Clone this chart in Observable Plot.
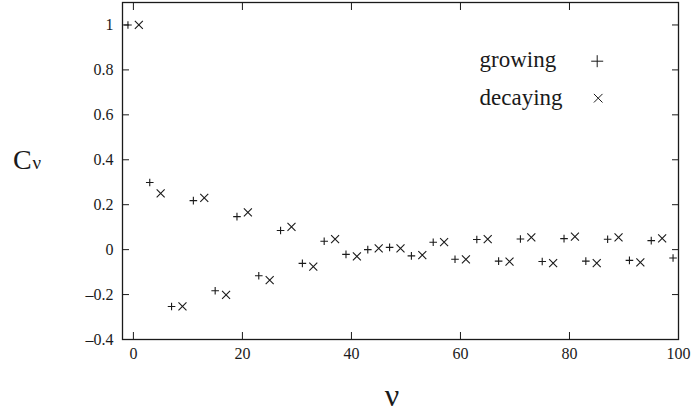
<!DOCTYPE html>
<html>
<head>
<meta charset="utf-8">
<script src="https://cdn.jsdelivr.net/npm/d3@7"></script>
<script src="https://cdn.jsdelivr.net/npm/@observablehq/plot@0.6"></script>
<style>
  html, body { margin: 0; padding: 0; background: #fff; }
  svg { display: block; }
  svg, svg text { font-family: "Liberation Serif", "Times New Roman", serif !important; }
</style>
</head>
<body>
<div id="chart"></div>
<script>
// ---- data ----
const growingNu = [-1, 3, 7, 11, 15, 19, 23, 27, 31, 35, 39, 43, 47, 51, 55, 59, 63, 67, 71, 75, 79, 83, 87, 91, 95, 99];
const growingC  = [1.00, 0.299, -0.253, 0.218, -0.183, 0.147, -0.116, 0.085, -0.061, 0.037, -0.021, 0.000, 0.010, -0.028, 0.033, -0.043, 0.045, -0.051, 0.047, -0.053, 0.049, -0.051, 0.046, -0.048, 0.040, -0.037];
const decayingNu = [1, 5, 9, 13, 17, 21, 25, 29, 33, 37, 41, 45, 49, 53, 57, 61, 65, 69, 73, 77, 81, 85, 89, 93, 97];
const decayingC  = [1.00, 0.250, -0.253, 0.230, -0.201, 0.166, -0.136, 0.101, -0.076, 0.047, -0.030, 0.006, 0.006, -0.024, 0.033, -0.043, 0.047, -0.053, 0.055, -0.060, 0.058, -0.060, 0.055, -0.057, 0.050];
const xTicks = [0, 20, 40, 60, 80, 100];
const yTicks = [-0.4, -0.2, 0, 0.2, 0.4, 0.6, 0.8, 1];
const seriesNames = ["growing", "decaying"];

const growing = growingNu.map((nu, i) => ({nu, c: growingC[i]}));
const decaying = decayingNu.map((nu, i) => ({nu, c: decayingC[i]}));

// custom stroke symbols: r option = half arm length
const plusSym = {draw(ctx, size) { const h = Math.sqrt(size / Math.PI); ctx.moveTo(-h, 0); ctx.lineTo(h, 0); ctx.moveTo(0, -h); ctx.lineTo(0, h); }};
const timesSym = {draw(ctx, size) { const h = Math.sqrt(size / Math.PI); ctx.moveTo(-h, -h); ctx.lineTo(h, h); ctx.moveTo(-h, h); ctx.lineTo(h, -h); }};

const ink = "#1a1a1a";
const font = "'Liberation Serif', 'Times New Roman', serif";
const yFmt = d => d === 0 ? "0" : (d < 0 ? "\u2013" + d3.format("")(Math.abs(d)) : d3.format("")(d));

const chart = Plot.plot({
  width: 691,
  height: 415,
  marginLeft: 122,
  marginRight: 13,
  marginTop: 2,
  marginBottom: 76,
  style: {fontFamily: font, fontSize: "16px", color: ink, background: "#fff"},
  x: {domain: [-2, 100], ticks: xTicks},
  y: {domain: [-0.4, 1.1], ticks: yTicks},
  marks: [
    Plot.frame({stroke: ink, strokeWidth: 1.3}),
    Plot.axisX(xTicks, {anchor: "bottom", tickSize: 0, tickPadding: 8, fontSize: 16, fontFamily: font, label: null, tickFormat: d => String(d)}),
    Plot.axisX(xTicks, {anchor: "bottom", tickSize: -7, text: null, label: null, stroke: ink}),
    Plot.axisX(xTicks, {anchor: "top", tickSize: -7, text: null, label: null, stroke: ink}),
    Plot.axisY(yTicks, {anchor: "left", tickSize: 0, tickPadding: 9, fontSize: 16, fontFamily: font, label: null, tickFormat: yFmt}),
    Plot.axisY(yTicks, {anchor: "left", tickSize: -7, text: null, label: null, stroke: ink}),
    Plot.axisY(yTicks, {anchor: "right", tickSize: -7, text: null, label: null, stroke: ink}),
    Plot.dot(growing, {x: "nu", y: "c", symbol: plusSym, r: 3.8, stroke: ink, strokeWidth: 1.1}),
    Plot.dot(decaying, {x: "nu", y: "c", symbol: timesSym, r: 4, stroke: ink, strokeWidth: 1.1}),
    // legend
    Plot.text([seriesNames[0]], {frameAnchor: "top-left", dx: 357, dy: 64.7, text: d => d, textAnchor: "start", lineAnchor: "bottom", fontSize: 23, fontFamily: font, fill: ink}),
    Plot.text([seriesNames[1]], {frameAnchor: "top-left", dx: 357, dy: 102, text: d => d, textAnchor: "start", lineAnchor: "bottom", fontSize: 23, fontFamily: font, fill: ink}),
    Plot.dot([0], {frameAnchor: "top-left", dx: 474.7, dy: 58.7, symbol: plusSym, r: 6, stroke: ink, strokeWidth: 1}),
    Plot.dot([0], {frameAnchor: "top-left", dx: 475.7, dy: 95.7, symbol: timesSym, r: 4.3, stroke: ink, strokeWidth: 1}),
    // y label C_nu
    Plot.text(["C"], {frameAnchor: "top-left", dx: -109.5, dy: 166, text: d => d, textAnchor: "start", lineAnchor: "bottom", fontSize: 28, fontFamily: font, fill: ink}),
    Plot.text(["\u03bd"], {frameAnchor: "top-left", dx: -90, dy: 166, text: d => d, textAnchor: "start", lineAnchor: "bottom", fontSize: 19, fontFamily: font, fill: ink}),
    // x label nu
    Plot.text(["\u03bd"], {frameAnchor: "top-left", dx: 269.5, dy: 403, text: d => d, textAnchor: "middle", lineAnchor: "bottom", fontSize: 32, fontFamily: font, fill: ink})
  ]
});
document.getElementById("chart").appendChild(chart);
</script>
</body>
</html>
